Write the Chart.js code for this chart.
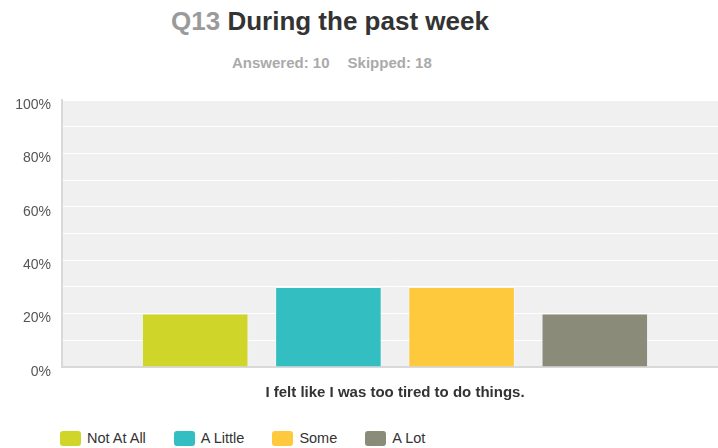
<!DOCTYPE html>
<html>
<head>
<meta charset="utf-8">
<script src="https://cdn.jsdelivr.net/npm/chart.js@4"></script>
<style>
  html, body { margin:0; padding:0; background:#fff; overflow:hidden; width:718px; height:448px; }
  body { position:relative; font-family:"Liberation Sans", Arial, sans-serif; }
  #title { position:absolute; left:171px; top:6px; font-size:26px; font-weight:bold; color:#333; white-space:nowrap; }
  #title .q { color:#9a9a9a; }
  #sub { position:absolute; left:232px; top:54px; font-size:15px; font-weight:bold; color:#aaa; white-space:nowrap; }
  #sub span { margin-left:18px; }
  #wrap { position:absolute; left:0; top:0; width:728px; height:410px; }
  #legend { position:absolute; left:60px; top:430px; display:flex; align-items:center; font-size:14.5px; color:#333; }
  #legend .item { display:flex; align-items:center; margin-right:28px; }
  #legend .box { width:21px; height:15px; border-radius:3px; margin-right:6px; }
</style>
</head>
<body>
<div id="title"><span class="q">Q13</span> During the past week</div>
<div id="sub">Answered: 10<span>Skipped: 18</span></div>
<div id="wrap"><canvas id="c"></canvas></div>
<div id="legend"></div>
<script>
const categories = ["I felt like I was too tired to do things."];
const seriesNames = ["Not At All", "A Little", "Some", "A Lot"];
const seriesValues = [[20], [30], [30], [20]];
const seriesColors = ["#d0d52a", "#33bec1", "#ffc93e", "#8b8b7a"];
const yTicks = [0, 20, 40, 60, 80, 100];

const bgPlugin = {
  id: 'bg',
  beforeDraw(chart) {
    const a = chart.chartArea, ctx = chart.ctx;
    ctx.save();
    ctx.fillStyle = '#f0f0f0';
    ctx.fillRect(a.left, a.top, a.right - a.left, a.bottom - a.top);
    ctx.restore();
  }
};

new Chart(document.getElementById('c'), {
  type: 'bar',
  data: {
    labels: categories,
    datasets: seriesNames.map((n, i) => ({
      label: n,
      data: seriesValues[i],
      backgroundColor: seriesColors[i],
      borderColor: 'rgba(255,255,255,0.3)',
      borderWidth: 1
    }))
  },
  options: {
    responsive: true,
    maintainAspectRatio: false,
    animation: false,
    categoryPercentage: 0.8,
    barPercentage: 0.8,
    layout: { padding: { top: 100, left: 0, right: 0, bottom: 0 } },
    plugins: { legend: { display: false }, tooltip: { enabled: false } },
    scales: {
      x: {
        grid: { display: false },
        border: { color: '#d9d9d9', width: 2 },
        ticks: {
          color: '#333',
          font: { family: '"Liberation Sans", Arial, sans-serif', size: 15, weight: 'bold' },
          padding: 9
        },
        afterFit(s) { s.height = 43; }
      },
      y: {
        min: 0, max: 100,
        afterBuildTicks(s) {
          const t = [];
          for (let v = 0; v <= 100; v += 10) t.push({ value: v });
          s.ticks = t;
        },
        grid: { color: '#ffffff', lineWidth: 1, drawTicks: false },
        border: { color: '#d9d9d9', width: 2 },
        ticks: {
          color: '#555',
          font: { family: '"Liberation Sans", Arial, sans-serif', size: 14 },
          padding: 11,
          labelOffset: 5,
          callback: v => yTicks.includes(v) ? v + '%' : ''
        },
        afterFit(s) { s.width = 62; }
      }
    }
  },
  plugins: [bgPlugin]
});

const leg = document.getElementById('legend');
seriesNames.forEach((n, i) => {
  const it = document.createElement('div');
  it.className = 'item';
  const b = document.createElement('div');
  b.className = 'box';
  b.style.background = seriesColors[i];
  const t = document.createElement('span');
  t.textContent = n;
  it.appendChild(b); it.appendChild(t);
  leg.appendChild(it);
});
</script>
</body>
</html>
